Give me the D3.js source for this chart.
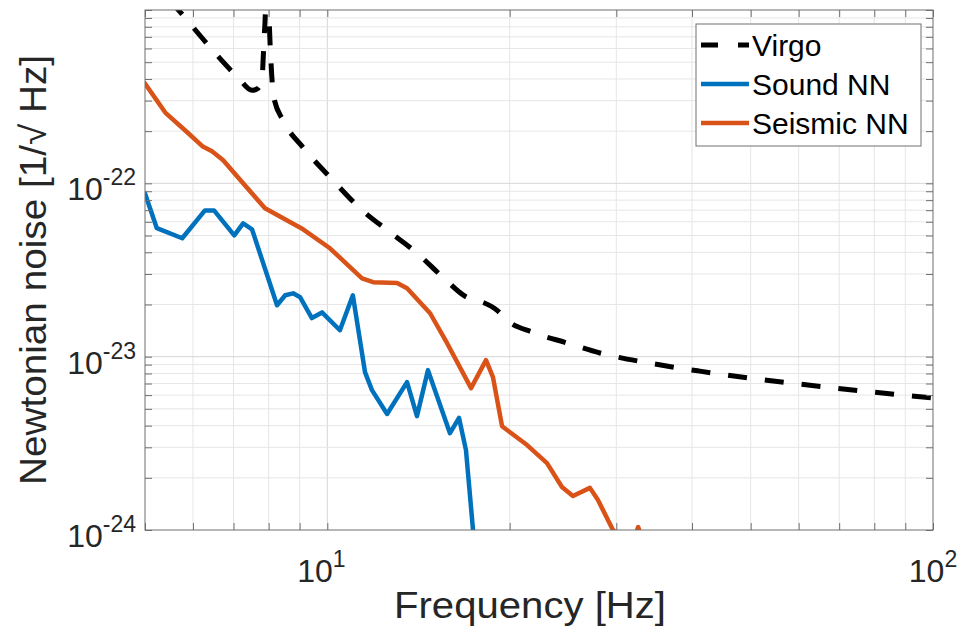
<!DOCTYPE html>
<html>
<head>
<meta charset="utf-8">
<script src="https://cdn.jsdelivr.net/npm/d3@7"></script>
<style>
  html, body { margin: 0; padding: 0; background: #ffffff; }
  svg { display: block; font-family: "Liberation Sans", Arial, Helvetica, sans-serif; }
</style>
</head>
<body>
<svg id="chart" width="964" height="641"></svg>
<script>
// ---------------- data ----------------
const xTickValues = [10, 100];
const xTickBase = ["10", "10"];
const xTickExp = ["1", "2"];
const yTickValues = [1e-24, 1e-23, 1e-22];
const yTickBase = ["10", "10", "10"];
const yTickExp = ["-24", "-23", "-22"];

const seriesNames = ["Virgo", "Sound NN", "Seismic NN"];

const virgoFreq = [5, 5.65, 6.47, 7.12, 7.51, 7.68, 7.80, 7.86, 7.91, 7.95, 8.01, 8.07, 8.16, 8.45, 9.12, 10.22, 11.32, 12.69, 14.06, 15.52, 17.01, 17.87, 19.07, 19.80, 21.86, 24.87, 28.19, 34.11, 41.2, 60.3, 100];
const virgoASD = [1.64e-21, 1.02e-21, 5.85e-22, 4.08e-22, 3.44e-22, 3.53e-22, 4.03e-22, 6.67e-22, 1.12e-21, 4.3e-21, 9.9e-22, 5.12e-22, 3.13e-22, 2.31e-22, 1.61e-22, 1.04e-22, 7.18e-23, 5.22e-23, 3.96e-23, 2.87e-23, 2.20e-23, 2.09e-23, 1.85e-23, 1.62e-23, 1.38e-23, 1.20e-23, 1.05e-23, 9.17e-24, 8.25e-24, 6.94e-24, 5.77e-24];

const soundFreq = [5.00, 5.23, 5.76, 6.28, 6.50, 7.02, 7.26, 7.51, 8.26, 8.52, 8.78, 9.02, 9.43, 9.80, 10.49, 11.02, 11.54, 11.85, 12.55, 13.54, 14.06, 14.66, 15.94, 16.50, 16.94, 17.40];
const soundASD = [8.75e-23, 5.51e-23, 4.82e-23, 6.98e-23, 6.98e-23, 5.01e-23, 5.87e-23, 5.43e-23, 1.98e-23, 2.26e-23, 2.32e-23, 2.20e-23, 1.67e-23, 1.80e-23, 1.42e-23, 2.26e-23, 8.15e-24, 6.41e-24, 4.67e-24, 7.13e-24, 4.54e-24, 8.36e-24, 3.62e-24, 4.43e-24, 2.89e-24, 1.0e-24];

const seismicFreq = [5.00, 5.40, 5.87, 6.23, 6.45, 6.73, 7.26, 7.89, 9.12, 10.10, 11.41, 11.90, 13.04, 13.54, 14.78, 15.76, 17.27, 18.28, 18.77, 19.43, 21.37, 23.05, 24.40, 25.44, 27.14, 27.98, 29.62, 31.8, 32.6, 33.4];
const seismicASD = [3.77e-22, 2.56e-22, 1.97e-22, 1.63e-22, 1.53e-22, 1.36e-22, 1.0e-22, 7.18e-23, 5.43e-23, 4.22e-23, 2.83e-23, 2.69e-23, 2.66e-23, 2.48e-23, 1.78e-23, 1.20e-23, 6.58e-24, 9.55e-24, 7.62e-24, 3.97e-24, 3.09e-24, 2.43e-24, 1.77e-24, 1.57e-24, 1.75e-24, 1.49e-24, 1.0e-24, 0.80e-24, 1.04e-24, 0.80e-24];

// ---------------- layout ----------------
const L = 145, R = 933, T = 10, B = 530;
const textColor = "#262626";
const svg = d3.select("#chart");

const x = d3.scaleLog().domain([5, 100]).range([L, R]);
const y = d3.scaleLog().domain([1e-24, 1e-21]).range([B, T]);

// grid
const xGrid = x.ticks();
const yGrid = y.ticks();
const isMajor = v => Math.abs(Math.log10(v) - Math.round(Math.log10(v))) < 1e-9;

const grid = svg.append("g");
grid.selectAll("line.gx").data(xGrid.filter(v => v > 5 && v < 100)).join("line")
  .attr("x1", d => x(d)).attr("x2", d => x(d)).attr("y1", T).attr("y2", B)
  .attr("stroke", d => isMajor(d) ? "#d6d6d6" : "#e6e6e6").attr("stroke-width", 1);
grid.selectAll("line.gy").data(yGrid.filter(v => v > 1e-24 * 1.01 && v < 1e-21 * 0.99)).join("line")
  .attr("x1", L).attr("x2", R).attr("y1", d => y(d)).attr("y2", d => y(d))
  .attr("stroke", d => isMajor(d) ? "#d6d6d6" : "#e6e6e6").attr("stroke-width", 1);

// clip
svg.append("clipPath").attr("id", "plotclip").append("rect")
  .attr("x", L).attr("y", T).attr("width", R - L).attr("height", B - T);

const plot = svg.append("g").attr("clip-path", "url(#plotclip)");
const zip = (fs, vs) => fs.map((f, i) => [f, vs[i]]);

const lineLin = d3.line().x(d => x(d[0])).y(d => y(d[1]));
const lineSmooth = d3.line().x(d => x(d[0])).y(d => y(d[1])).curve(d3.curveMonotoneX);

plot.append("path").datum(zip(seismicFreq, seismicASD))
  .attr("d", lineLin).attr("fill", "none").attr("stroke", "#D95319")
  .attr("stroke-width", 4.5).attr("stroke-linejoin", "round").attr("stroke-linecap", "round");
plot.append("path").datum(zip(soundFreq, soundASD))
  .attr("d", lineLin).attr("fill", "none").attr("stroke", "#0072BD")
  .attr("stroke-width", 4.5).attr("stroke-linejoin", "round").attr("stroke-linecap", "round");
plot.append("path").datum(zip(virgoFreq, virgoASD))
  .attr("d", lineSmooth).attr("fill", "none").attr("stroke", "#000000")
  .attr("stroke-width", 5).attr("stroke-dasharray", "19,18");

// axes (inner ticks on all four sides)
const tk = 7;
const axColor = "#6e6e6e";
function styleAxis(g) {
  g.selectAll("path.domain").remove();
  g.selectAll(".tick line").attr("stroke", axColor).attr("stroke-width", 1);
  g.selectAll(".tick text").remove();
}
const xTicksAll = x.ticks();
const yTicksAll = y.ticks();
svg.append("g").attr("transform", `translate(0,${B})`)
  .call(d3.axisBottom(x).tickValues(xTicksAll).tickSize(-tk).tickSizeOuter(0)).call(styleAxis);
svg.append("g").attr("transform", `translate(0,${T})`)
  .call(d3.axisTop(x).tickValues(xTicksAll).tickSize(-tk).tickSizeOuter(0)).call(styleAxis);
svg.append("g").attr("transform", `translate(${L},0)`)
  .call(d3.axisLeft(y).tickValues(yTicksAll).tickSize(-tk).tickSizeOuter(0)).call(styleAxis);
svg.append("g").attr("transform", `translate(${R},0)`)
  .call(d3.axisRight(y).tickValues(yTicksAll).tickSize(-tk).tickSizeOuter(0)).call(styleAxis);

svg.append("rect").attr("x", L).attr("y", T).attr("width", R - L).attr("height", B - T)
  .attr("fill", "none").attr("stroke", axColor).attr("stroke-width", 1);

// tick labels
const xl = svg.append("g");
xTickValues.forEach((v, i) => {
  const t = xl.append("text").attr("x", x(v) - (i === 0 ? 6 : 0)).attr("y", B + 52)
    .attr("text-anchor", "middle").attr("fill", textColor).attr("font-size", 32);
  t.append("tspan").text(xTickBase[i]);
  t.append("tspan").attr("font-size", 23).attr("dy", -15).text(xTickExp[i]);
});
yTickValues.forEach((v, i) => {
  const t = xl.append("text").attr("x", L - 9).attr("y", y(v) + 17)
    .attr("text-anchor", "end").attr("fill", textColor).attr("font-size", 32);
  t.append("tspan").text(yTickBase[i]);
  t.append("tspan").attr("font-size", 23).attr("dy", -15).text(yTickExp[i]);
});

// axis labels
svg.append("text").attr("x", 530).attr("y", 618).attr("text-anchor", "middle")
  .attr("fill", textColor).attr("font-size", 37)
  .attr("textLength", 272).attr("lengthAdjust", "spacingAndGlyphs")
  .text("Frequency [Hz]");
svg.append("text").attr("transform", `translate(46,${(T + B) / 2}) rotate(-90)`)
  .attr("text-anchor", "middle").attr("fill", textColor).attr("font-size", 36)
  .attr("textLength", 430).attr("lengthAdjust", "spacingAndGlyphs")
  .text("Newtonian noise [1/\u221A Hz]");

// legend
const lg = svg.append("g");
lg.append("rect").attr("x", 696).attr("y", 24).attr("width", 225).attr("height", 122)
  .attr("fill", "#ffffff").attr("stroke", "#707070").attr("stroke-width", 1);
const legendStyles = [
  { color: "#000000", dash: "17,20", w: 5 },
  { color: "#0072BD", dash: null, w: 4.5 },
  { color: "#D95319", dash: null, w: 4.5 }
];
seriesNames.forEach((name, i) => {
  const cy = 45 + i * 39;
  const ln = lg.append("line").attr("x1", 701).attr("x2", 749).attr("y1", cy).attr("y2", cy)
    .attr("stroke", legendStyles[i].color).attr("stroke-width", legendStyles[i].w);
  if (legendStyles[i].dash) ln.attr("stroke-dasharray", legendStyles[i].dash);
  lg.append("text").attr("x", 752).attr("y", cy + 11).attr("fill", "#000000")
    .attr("font-size", 30).text(name);
});
</script>
</body>
</html>
